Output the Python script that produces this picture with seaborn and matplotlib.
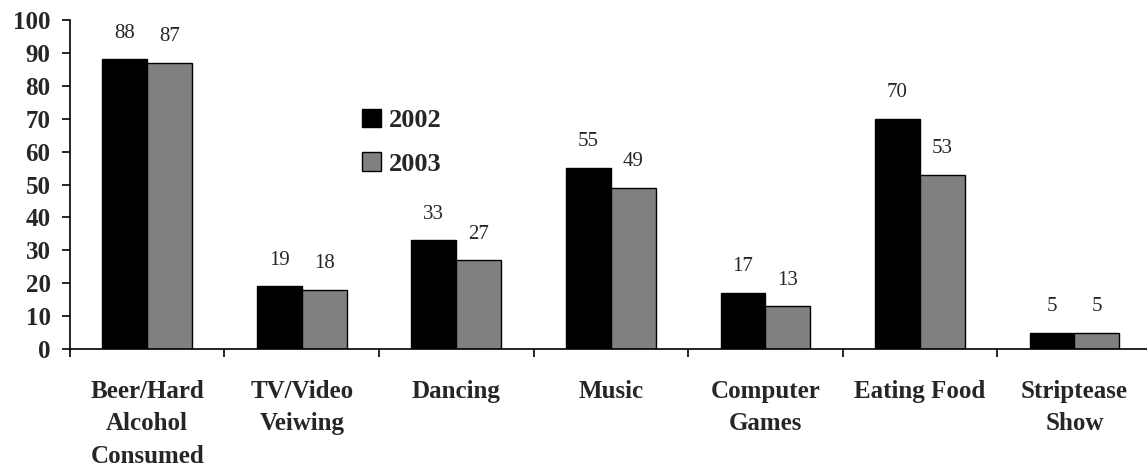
import matplotlib
matplotlib.use("Agg")
import matplotlib.pyplot as plt
import pandas as pd
import seaborn as sns

# Data
categories = ["Beer/Hard\nAlcohol\nConsumed", "TV/Video\nVeiwing", "Dancing", "Music",
              "Computer\nGames", "Eating Food", "Striptease\nShow"]
years = ["2002", "2003"]
values_2002 = [88, 19, 33, 55, 17, 70, 5]
values_2003 = [87, 18, 27, 49, 13, 53, 5]

df = pd.DataFrame({
    "category": categories * 2,
    "year": [years[0]] * len(categories) + [years[1]] * len(categories),
    "value": values_2002 + values_2003,
})

sns.set_theme(style="white")
plt.rcParams["font.family"] = ["Liberation Serif", "DejaVu Serif"]

fig = plt.figure(figsize=(11.47, 4.72), dpi=100)
ax = fig.add_axes([0.061, 0.2606, 0.939, 0.697])

sns.barplot(data=df, x="category", y="value", hue="year", order=categories,
            hue_order=years, palette=["black", "#808080"], width=0.58, gap=0,
            edgecolor="black", linewidth=1, saturation=1, errorbar=None, ax=ax)

# value labels above the bars
for cont in ax.containers:
    ax.bar_label(cont, fmt="%d", padding=12, fontsize=15)

ax.set_xlim(-0.5, 6.47)
ax.set_ylim(0, 100)
ax.set_yticks(range(0, 101, 10))
ax.set_xlabel("")
ax.set_ylabel("")

for s in ["top", "right"]:
    ax.spines[s].set_visible(False)
for s in ["left", "bottom"]:
    ax.spines[s].set_color("black")
    ax.spines[s].set_linewidth(1.2)

ax.tick_params(axis="y", direction="out", length=6, width=1.2, color="black",
               left=True, labelsize=18, pad=8)
for t in ax.get_yticklabels():
    t.set_fontweight("bold")

# tick marks sit between the categories
ax.set_xticks([i + 0.5 for i in range(-1, 6)], minor=True)
ax.tick_params(axis="x", which="minor", direction="out", length=6, width=1.2,
               color="black", bottom=True)
ax.tick_params(axis="x", which="major", length=0, labelsize=18, pad=22)
for t in ax.get_xticklabels():
    t.set_fontweight("bold")
    t.set_linespacing(1.55)

leg = ax.legend(loc="upper left", bbox_to_anchor=(0.259, 0.77), frameon=False,
                handlelength=0.7, handleheight=0.7, handletextpad=0.3,
                labelspacing=0.75, borderpad=0, prop={"weight": "bold", "size": 19})
for h in leg.legend_handles:
    h.set_edgecolor("black")

fig.savefig("out.png", dpi=100)
